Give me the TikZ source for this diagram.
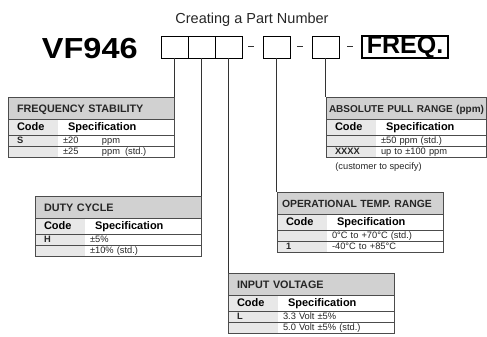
\documentclass[tikz,border=0pt]{standalone}
\usepackage{fontspec}
\setmainfont{Liberation Sans}
\usepackage{tikz}
\usetikzlibrary{positioning}

\begin{document}
\begin{tikzpicture}[
    x=1pt, y=-1pt,
    every node/.style={outer sep=0pt},
    partbox/.style={rectangle, draw, minimum width=27pt, minimum height=22pt, inner sep=0pt},
    dashbar/.style={rectangle, fill=black!80, minimum width=6pt, minimum height=1pt, inner sep=0pt},
    freqbox/.style={rectangle, draw, line width=2pt, minimum width=86pt, minimum height=21pt, inner sep=0pt, font=\fontsize{25}{27}\selectfont\bfseries},
    tblhead/.style={rectangle, fill=black!18, anchor=north west, minimum height=22pt, inner xsep=9pt, inner ysep=0pt, text width=148pt, align=left, text height=8pt, text depth=0pt, text=black!85, font=\fontsize{10.8}{12}\selectfont\bfseries},
    codehead/.style={rectangle, fill=black!9, anchor=north west, minimum height=16pt, inner xsep=9pt, inner ysep=0pt, text width=32pt, align=left, text height=8pt, text depth=2pt, font=\fontsize{11}{12}\selectfont\bfseries},
    spechead/.style={rectangle, fill=white, anchor=north west, minimum height=16pt, inner xsep=10pt, inner ysep=0pt, text width=96pt, align=left, text height=8pt, text depth=2pt, font=\fontsize{11}{12}\selectfont\bfseries},
    codedata/.style={codehead, minimum height=11pt, text height=7pt, text depth=2pt, text=black!85, font=\fontsize{9.3}{10}\selectfont\bfseries},
    specdata/.style={spechead, minimum height=11pt, inner xsep=5pt, text width=106pt, text height=7pt, text depth=2pt, text=black!85, font=\fontsize{9.3}{10}\selectfont},
    tblline/.style={draw=black!70, line width=0.8pt},
    wire/.style={draw=black!80, line width=0.7pt}
]
\useasboundingbox (0,0) rectangle (487,337);

% Part number
\node[font=\fontsize{14.5}{16}\selectfont, text=black!85, anchor=base] (Title) at (252,24) {Creating a Part Number};
\node[anchor=base east, font=\fontsize{29}{30}\selectfont\bfseries] (Model) at (141,59) {\scalebox{1.12}[1]{VF946}};
\node[partbox] (BoxA) at (174.5,47) {};
\node[partbox, right=0pt of BoxA] (BoxB) {};
\node[partbox, right=0pt of BoxB] (BoxC) {};
\node[dashbar, right=6pt of BoxC] (DashA) {};
\node[partbox, right=9pt of DashA] (BoxD) {};
\node[dashbar, right=7pt of BoxD] (DashB) {};
\node[partbox, right=9pt of DashB] (BoxE) {};
\node[dashbar, right=8pt of BoxE] (DashC) {};
\node[freqbox, right=9pt of DashC] (Freq) {FREQ.};

% Frequency stability
\node[tblhead] (StabHead) at (8,97) {FREQUENCY STABILITY};
\node[codehead] (StabCode) at (StabHead.south west) {Code};
\node[spechead] (StabSpec) at (StabCode.north east) {Specification};
\node[codedata] (StabCodeA) at (StabCode.south west) {S};
\node[specdata] (StabSpecA) at (StabCodeA.north east) {\makebox[39pt][l]{±20}ppm};
\node[codedata] (StabCodeB) at (StabCodeA.south west) {};
\node[specdata] (StabSpecB) at (StabCodeB.north east) {\makebox[39pt][l]{±25}ppm\hspace{5pt}(std.)};
\draw[tblline] (StabHead.north west) rectangle (StabSpecB.south east)
    (StabHead.south west) -- (StabHead.south east)
    (StabCode.south west) -- (StabSpec.south east)
    (StabCodeA.south west) -- (StabSpecA.south east);

% Duty cycle
\node[tblhead] (DutyHead) at (35,196) {DUTY CYCLE};
\node[codehead] (DutyCode) at (DutyHead.south west) {Code};
\node[spechead] (DutySpec) at (DutyCode.north east) {Specification};
\node[codedata] (DutyCodeA) at (DutyCode.south west) {H};
\node[specdata] (DutySpecA) at (DutyCodeA.north east) {±5\%};
\node[codedata] (DutyCodeB) at (DutyCodeA.south west) {};
\node[specdata] (DutySpecB) at (DutyCodeB.north east) {±10\% (std.)};
\draw[tblline] (DutyHead.north west) rectangle (DutySpecB.south east)
    (DutyHead.south west) -- (DutyHead.south east)
    (DutyCode.south west) -- (DutySpec.south east)
    (DutyCodeA.south west) -- (DutySpecA.south east);

% Input voltage
\node[tblhead] (VoltHead) at (228,273) {INPUT VOLTAGE};
\node[codehead] (VoltCode) at (VoltHead.south west) {Code};
\node[spechead] (VoltSpec) at (VoltCode.north east) {Specification};
\node[codedata] (VoltCodeA) at (VoltCode.south west) {L};
\node[specdata] (VoltSpecA) at (VoltCodeA.north east) {3.3 Volt ±5\%};
\node[codedata] (VoltCodeB) at (VoltCodeA.south west) {};
\node[specdata] (VoltSpecB) at (VoltCodeB.north east) {5.0 Volt ±5\% (std.)};
\draw[tblline] (VoltHead.north west) rectangle (VoltSpecB.south east)
    (VoltHead.south west) -- (VoltHead.south east)
    (VoltCode.south west) -- (VoltSpec.south east)
    (VoltCodeA.south west) -- (VoltSpecA.south east);

% Operational temperature
\node[tblhead, inner xsep=5pt, text width=156pt, font=\fontsize{10.4}{12}\selectfont\bfseries] (TempHead) at (277,192) {OPERATIONAL TEMP. RANGE};
\node[codehead] (TempCode) at (TempHead.south west) {Code};
\node[spechead] (TempSpec) at (TempCode.north east) {Specification};
\node[codedata] (TempCodeA) at (TempCode.south west) {};
\node[specdata] (TempSpecA) at (TempCodeA.north east) {0°C to +70°C (std.)};
\node[codedata] (TempCodeB) at (TempCodeA.south west) {1};
\node[specdata] (TempSpecB) at (TempCodeB.north east) {-40°C to +85°C};
\draw[tblline] (TempHead.north west) rectangle (TempSpecB.south east)
    (TempHead.south west) -- (TempHead.south east)
    (TempCode.south west) -- (TempSpec.south east)
    (TempCodeA.south west) -- (TempSpecA.south east);

% Absolute pull range
\node[tblhead, inner xsep=3pt, text width=154pt, font=\fontsize{10}{12}\selectfont\bfseries] (PullHead) at (326,97) {\mbox{ABSOLUTE PULL RANGE (ppm)}};
\node[codehead] (PullCode) at (PullHead.south west) {Code};
\node[spechead, text width=90pt] (PullSpec) at (PullCode.north east) {Specification};
\node[codedata] (PullCodeA) at (PullCode.south west) {};
\node[specdata, text width=100pt] (PullSpecA) at (PullCodeA.north east) {±50 ppm (std.)};
\node[codedata] (PullCodeB) at (PullCodeA.south west) {XXXX};
\node[specdata, text width=100pt] (PullSpecB) at (PullCodeB.north east) {up to ±100 ppm};
\draw[tblline] (PullHead.north west) rectangle (PullSpecB.south east)
    (PullHead.south west) -- (PullHead.south east)
    (PullCode.south west) -- (PullSpec.south east)
    (PullCodeA.south west) -- (PullSpecA.south east);
\node[below right=2pt and 6pt of PullCodeB.south west, font=\fontsize{9.3}{10}\selectfont, text=black!85] (PullNote) {(customer to specify)};

% Wires
\draw[wire] (BoxA) -- (BoxA |- StabHead.north);
\draw[wire] (BoxB) -- (BoxB |- DutyHead.north);
\draw[wire] (BoxC) -- (BoxC |- VoltHead.north);
\draw[wire] (BoxD) -- (BoxD |- TempHead.north);
\draw[wire] (BoxE) -- (BoxE |- PullHead.north);

\end{tikzpicture}
\end{document}
